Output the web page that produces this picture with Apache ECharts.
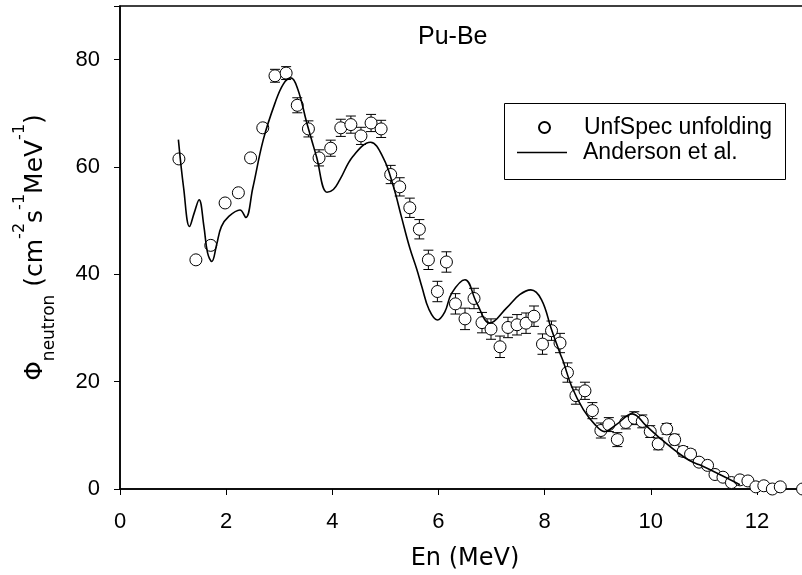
<!DOCTYPE html>
<html>
<head>
<meta charset="utf-8">
<script src="https://cdn.jsdelivr.net/npm/echarts@6/dist/echarts.min.js"></script>
<style>
html,body{margin:0;padding:0;background:#fff;}
#chart{width:802px;height:575px;}
</style>
</head>
<body>
<div id="chart"></div>
<script>
// UnfSpec unfolding points
var unfEnergy = [1.11,1.43,1.71,1.98,2.23,2.46,2.69,2.92,3.13,3.34,3.55,3.75,3.97,4.16,4.35,4.54,4.73,4.92,5.10,5.27,5.46,5.64,5.81,5.98,6.15,6.32,6.50,6.67,6.82,6.99,7.16,7.31,7.48,7.65,7.80,7.96,8.13,8.29,8.43,8.59,8.76,8.90,9.06,9.21,9.37,9.53,9.69,9.84,9.99,10.14,10.30,10.45,10.61,10.75,10.91,11.07,11.21,11.36,11.52,11.68,11.83,11.98,12.13,12.29,12.44,12.86];
var unfFlux = [61.5,42.7,45.4,53.3,55.2,61.7,67.3,77.0,77.5,71.5,67.1,61.7,63.5,67.3,67.9,65.8,68.2,67.1,58.6,56.3,52.4,48.4,42.7,36.8,42.3,34.5,31.7,35.5,31.0,29.8,26.5,30.1,30.6,30.9,32.2,27.0,29.5,27.2,21.7,17.4,18.3,14.6,10.9,12.0,9.2,12.4,13.2,12.6,10.7,8.4,11.2,9.2,7.0,6.5,5.0,4.4,2.7,2.2,1.2,1.7,1.5,0.4,0.6,0.0,0.4,0.0];
var unfError = [0,0,0,0,0,0,0,1.2,1.2,1.4,1.5,1.5,1.5,1.6,1.6,1.6,1.6,1.6,1.7,1.7,1.8,1.8,1.8,1.9,1.9,1.9,2.0,1.9,1.9,1.9,2.0,1.9,1.9,1.9,1.9,1.9,1.8,1.8,1.8,1.6,1.6,1.5,1.4,1.3,1.3,1.2,1.2,1.2,1.1,1.1,1.0,1.0,0.9,0.8,0.7,0.6,0.5,0.5,0.4,0.4,0.3,0.3,0.3,0.3,0.3,0.3];

// Anderson et al. reference spectrum
var andEnergy = [1.10,1.20,1.31,1.40,1.49,1.58,1.65,1.73,1.82,1.91,2.05,2.26,2.37,2.50,2.70,2.92,3.08,3.22,3.35,3.52,3.70,3.90,4.02,4.14,4.39,4.72,4.96,5.15,5.30,5.46,5.59,5.69,5.82,5.98,6.12,6.25,6.50,6.72,6.97,7.28,7.53,7.74,7.94,8.13,8.29,8.35,8.51,8.73,8.95,9.13,9.35,9.65,9.92,10.17,10.48,10.73,10.92,11.30,11.68];
var andFlux = [65.1,56.0,48.9,51.5,53.9,49.0,44.0,42.4,45.5,48.9,50.8,52.0,50.6,56.0,65.1,71.9,75.5,76.6,74.5,68.2,62.0,55.3,55.8,57.6,62.0,64.6,61.7,56.4,50.8,44.9,41.0,37.6,33.5,31.5,33.0,36.5,39.0,34.7,30.9,33.7,36.2,37.1,35.3,29.7,25.3,23.8,19.1,14.8,12.0,10.7,12.0,14.0,11.7,9.5,7.0,5.3,4.5,2.7,0.8];

var xTicks = [0,2,4,6,8,10,12];
var yTicks = [0,20,40,60,80];

var FONT = '"Liberation Sans", Arial, sans-serif';
var WIDE = '"DejaVu Sans", sans-serif';

var scatterData = unfEnergy.map(function(e,i){ return [e, unfFlux[i]]; });
var errData = unfEnergy.map(function(e,i){ return [e, unfFlux[i], unfError[i]]; });
var lineData = andEnergy.map(function(e,i){ return [e, andFlux[i]]; });

var chart = echarts.init(document.getElementById('chart'), null, {renderer:'canvas'});
chart.setOption({
  backgroundColor: '#fff',
  animation: false,
  title: {
    text: 'Pu-Be', left: 413, top: 20,
    textStyle: {fontFamily: FONT, fontSize: 25, fontWeight: 'normal', color: '#000'}
  },
  grid: {left: 120, top: 6, right: -8, bottom: 86, show: true, borderColor: '#000', borderWidth: 1.5,
    containLabel: false, outerBoundsMode: 'none'},
  xAxis: {
    type: 'value', min: 0, max: 13, interval: 2,
    name: 'En (MeV)', nameLocation: 'middle', nameGap: 58,
    nameTextStyle: {fontFamily: WIDE, fontSize: 24, color: '#000'},
    axisLine: {show: true, onZero: false, lineStyle: {color: '#000', width: 1.5}},
    axisTick: {show: true, inside: false, length: 6, lineStyle: {color: '#000', width: 1}},
    axisLabel: {fontFamily: FONT, fontSize: 22, color: '#000', margin: 22,
      formatter: function(v){ return xTicks.indexOf(v) >= 0 ? String(v) : ''; }},
    splitLine: {show: false}
  },
  yAxis: {
    type: 'value', min: 0, max: 90, interval: 20,
    name: '{m|Φ}{sub|neutron}{m| (cm}{sup|-2}{m|s}{sup|-1}{m|MeV}{sup|-1}{m|)}',
    nameLocation: 'middle', nameGap: 62, nameRotate: 90,
    nameTextStyle: {
      fontFamily: WIDE, fontSize: 25, color: '#000',
      rich: {
        m: {fontFamily: WIDE, fontSize: 25, color: '#000', lineHeight: 46, verticalAlign: 'middle'},
        sub: {fontFamily: WIDE, fontSize: 17, color: '#000', lineHeight: 38, verticalAlign: 'bottom'},
        sup: {fontFamily: WIDE, fontSize: 16, color: '#000', lineHeight: 16, verticalAlign: 'top'}
      }
    },
    axisLine: {show: true, onZero: false, lineStyle: {color: '#000', width: 1.5}},
    axisTick: {show: true, inside: false, length: 6, lineStyle: {color: '#000', width: 1}},
    axisLabel: {fontFamily: FONT, fontSize: 22, color: '#000', margin: 20,
      formatter: function(v){ return yTicks.indexOf(v) >= 0 ? String(v) : ''; }},
    splitLine: {show: false}
  },
  legend: [
    {
      data: ['UnfSpec unfolding'], orient: 'vertical', left: 538, top: 116,
      itemWidth: 11, itemHeight: 11, padding: 0, selectedMode: false, z: 10,
      textStyle: {fontFamily: FONT, fontSize: 23, color: '#000', padding: [0,0,0,29]}
    },
    {
      data: [{name: 'Anderson et al.', icon: 'rect'}], orient: 'vertical', left: 517, top: 141,
      itemWidth: 50, itemHeight: 1.5, padding: 0, selectedMode: false, z: 10,
      itemStyle: {color: '#000', borderWidth: 0},
      textStyle: {fontFamily: FONT, fontSize: 23, color: '#000', padding: [0,0,0,11]}
    }
  ],
  graphic: [{
    type: 'rect', left: 504, top: 103, z: 5,
    shape: {width: 281, height: 76},
    style: {fill: '#fff', stroke: '#000', lineWidth: 1}
  }],
  series: [
    {
      name: 'errors', type: 'custom', data: errData, z: 2, silent: true,
      encode: {x: 0, y: 1},
      renderItem: function(params, api){
        var x = api.value(0), y = api.value(1), e = api.value(2);
        if (!(e > 0)) return null;
        var top = api.coord([x, y + e]);
        var bot = api.coord([x, y - e]);
        var c = 5;
        var st = {stroke: '#000', lineWidth: 1};
        return {type: 'group', children: [
          {type: 'line', shape: {x1: top[0], y1: top[1], x2: bot[0], y2: bot[1]}, style: st},
          {type: 'line', shape: {x1: top[0]-c, y1: top[1], x2: top[0]+c, y2: top[1]}, style: st},
          {type: 'line', shape: {x1: bot[0]-c, y1: bot[1], x2: bot[0]+c, y2: bot[1]}, style: st}
        ]};
      }
    },
    {
      name: 'UnfSpec unfolding', type: 'scatter', data: scatterData, z: 3,
      symbol: 'circle', symbolSize: 12,
      itemStyle: {color: '#fff', borderColor: '#000', borderWidth: 1, opacity: 1}
    },
    {
      name: 'Anderson et al.', type: 'line', data: lineData, z: 4,
      symbol: 'none', smooth: 0.4,
      lineStyle: {color: '#000', width: 1.6}, itemStyle: {color: '#000'}
    }
  ]
});
</script>
</body>
</html>
